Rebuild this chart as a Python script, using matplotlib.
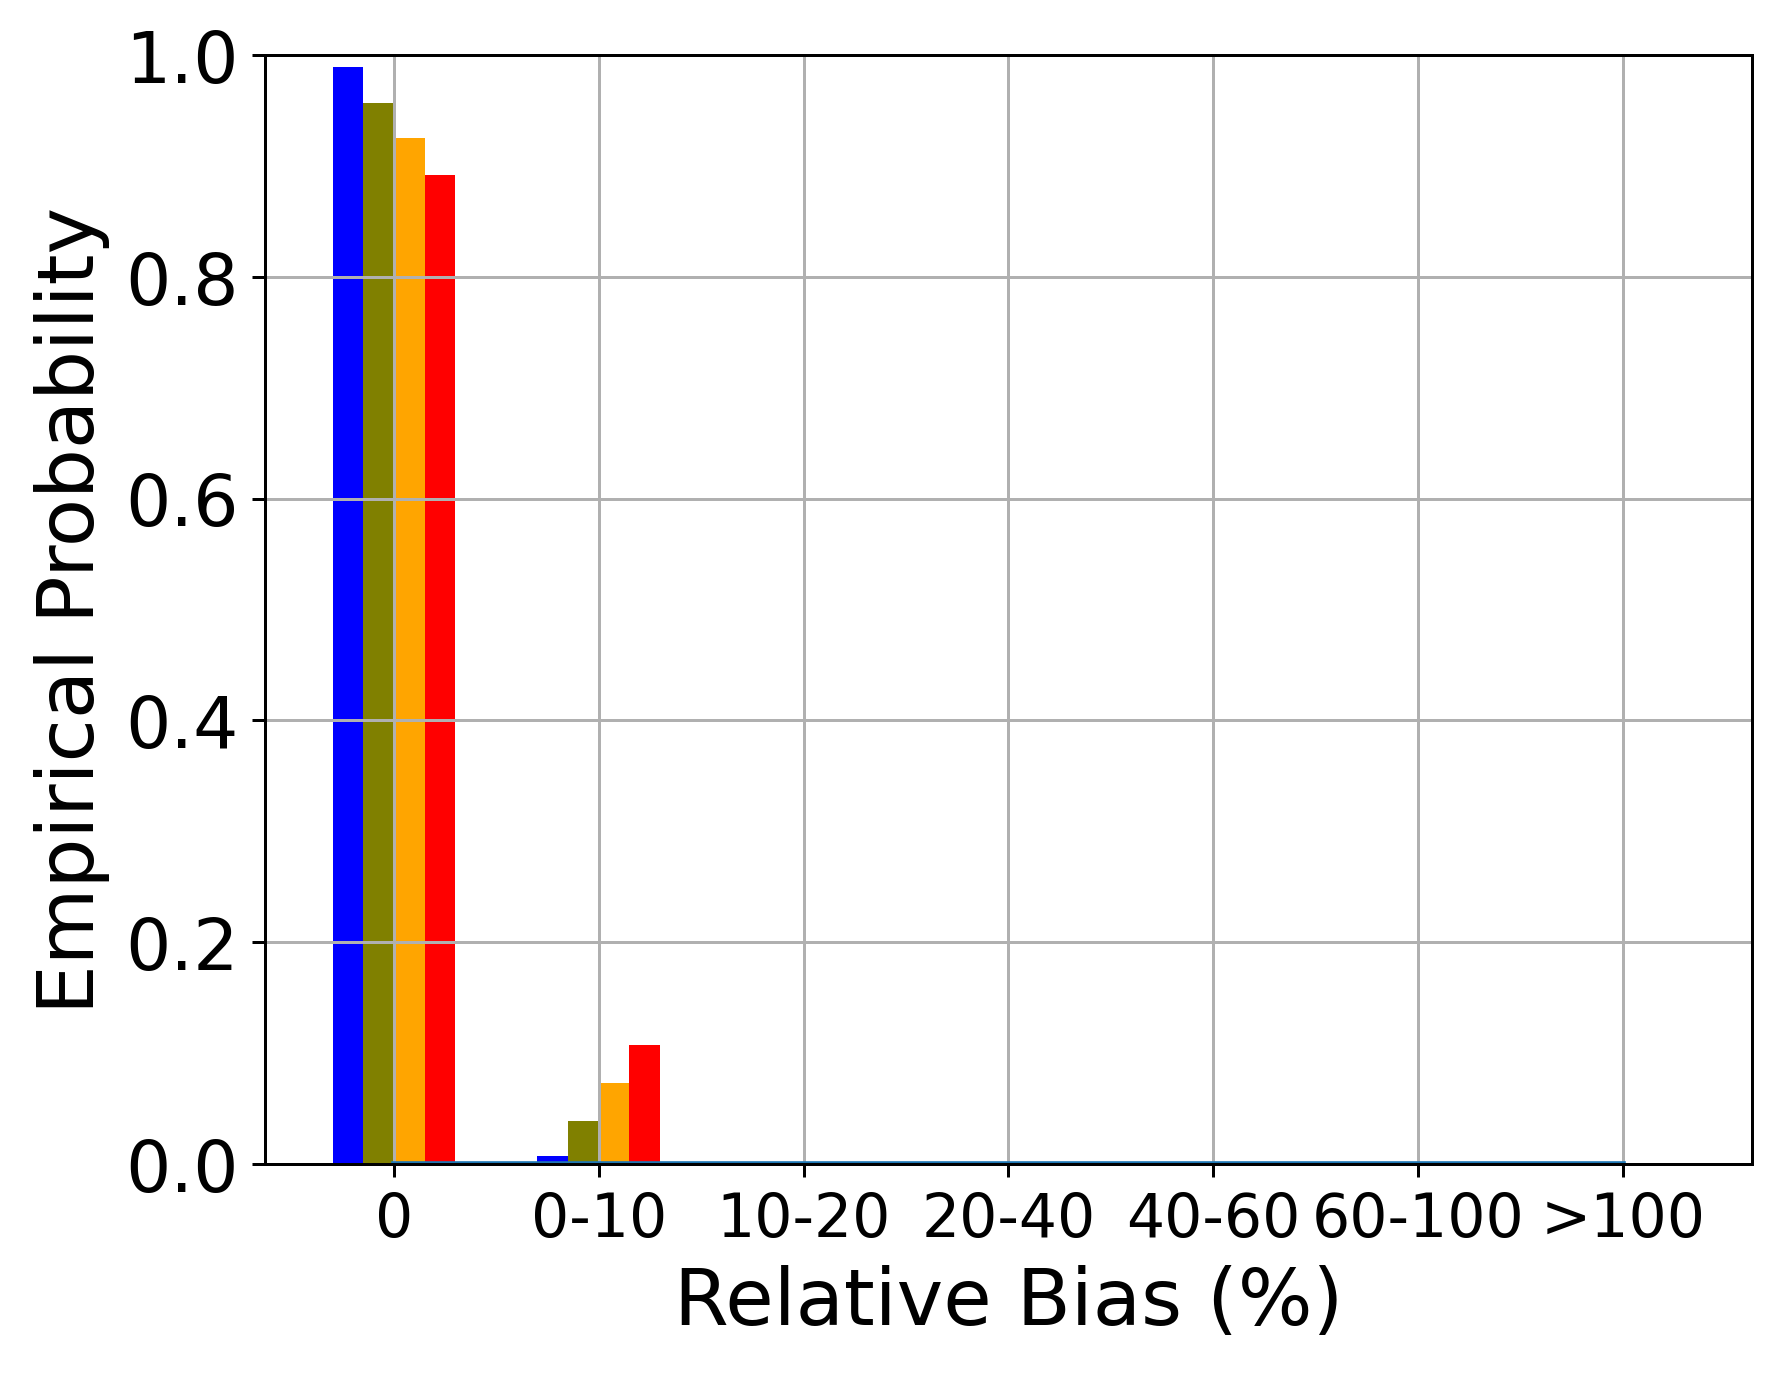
import numpy as np
import matplotlib
matplotlib.use("Agg")
import matplotlib.pyplot as plt

categories = ["0", "0-10", "10-20", "20-40", "40-60", "60-100", ">100"]
series_a = [0.989, 0.007, 0.0, 0.0, 0.0, 0.0, 0.0]
series_b = [0.957, 0.039, 0.0, 0.0, 0.0, 0.0, 0.0]
series_c = [0.925, 0.073, 0.0, 0.0, 0.0, 0.0, 0.0]
series_d = [0.892, 0.107, 0.0, 0.0, 0.0, 0.0, 0.0]
baseline = [0.0, 0.0, 0.0, 0.0, 0.0, 0.0, 0.0]

x = np.arange(len(categories))
w = 0.15

fig = plt.figure(figsize=(6.6, 5.096), dpi=270)
ax = fig.add_axes([0.1487, 0.1533, 0.8343, 0.8062])
ax.bar(x - 1.5 * w, series_a, w, color="blue")
ax.bar(x - 0.5 * w, series_b, w, color="olive")
ax.bar(x + 0.5 * w, series_c, w, color="orange")
ax.bar(x + 1.5 * w, series_d, w, color="red")
ax.plot(x, baseline)
ax.set_ylim(0, 1.0)
ax.set_xticks(x)
ax.set_xticklabels(categories, fontsize=16)
ax.tick_params(axis="y", labelsize=19)
ax.set_xlabel("Relative Bias (%)", fontsize=21)
ax.set_ylabel("Empirical Probability", fontsize=21)
ax.grid(True)
fig.savefig("out.png", dpi=270)
